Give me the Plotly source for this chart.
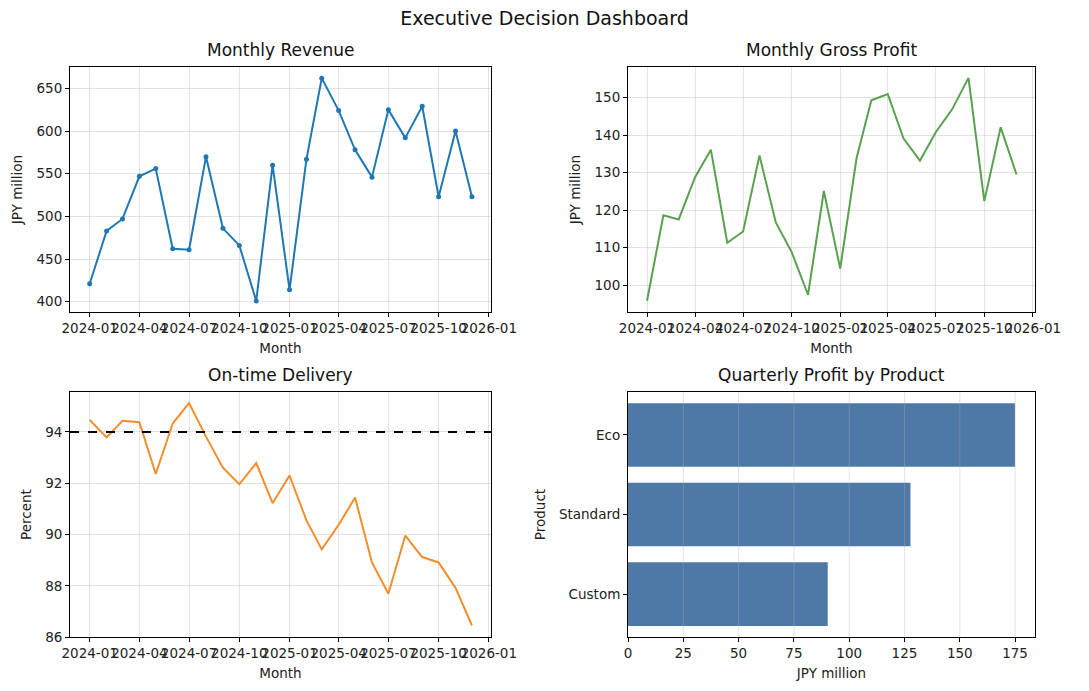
import plotly.graph_objects as go

# ---- data ----
months = [f"{y}-{m:02d}-01" for y in (2024, 2025) for m in range(1, 13)]

revenue = [421, 483, 497, 547, 556, 462, 461, 570, 486, 466, 401, 560,
           414, 567, 662, 624, 578, 546, 625, 592, 629, 523, 600, 523]

gross_profit = [95.8, 118.6, 117.5, 128.8, 136.1, 111.3, 114.3, 134.6, 116.7, 108.8, 97.4, 125.1,
                104.4, 133.9, 149.3, 151.0, 139.1, 133.2, 140.8, 146.9, 155.3, 122.4, 142.1, 129.5]

on_time = [94.47, 93.79, 94.44, 94.38, 92.36, 94.33, 95.13, 93.82, 92.61, 91.96, 92.79, 91.22,
           92.30, 90.55, 89.42, 90.38, 91.44, 88.91, 87.69, 89.96, 89.12, 88.91, 87.92, 86.45]
on_time_target = 94

products = ["Custom", "Standard", "Eco"]
product_profit = [90.3, 127.7, 175.0]

FONT = "DejaVu Sans"
TICK = 13.5
GRID = "rgba(176,176,176,0.35)"

fig = go.Figure()

fig.add_trace(go.Scatter(x=months, y=revenue, mode="lines+markers",
                         line=dict(color="#1f77b4", width=2),
                         marker=dict(size=5, color="#1f77b4"),
                         xaxis="x", yaxis="y", showlegend=False))
fig.add_trace(go.Scatter(x=months, y=gross_profit, mode="lines",
                         line=dict(color="#59a14f", width=2),
                         xaxis="x2", yaxis="y2", showlegend=False))
fig.add_trace(go.Scatter(x=months, y=on_time, mode="lines",
                         line=dict(color="#f28e2b", width=2),
                         xaxis="x3", yaxis="y3", showlegend=False))
fig.add_trace(go.Bar(x=product_profit, y=products, orientation="h",
                     marker=dict(color="#4e79a7", line=dict(width=0)), width=0.8,
                     xaxis="x4", yaxis="y4", showlegend=False))

# target line on the delivery panel
fig.add_shape(type="line", xref="x3 domain", yref="y3", x0=0, x1=1,
              y0=on_time_target, y1=on_time_target,
              line=dict(color="black", width=2, dash="dash"))

ax_common = dict(showline=True, linecolor="black", linewidth=1, mirror=True,
                 ticks="outside", ticklen=4, tickcolor="black", automargin=False,
                 tickfont=dict(family=FONT, size=TICK, color="#222"),
                 zeroline=False, showgrid=True, gridcolor=GRID, gridwidth=1)

date_ax = dict(ax_common, type="date", tick0="2024-01-01", dtick="M3", tickformat="%Y-%m",
               tickangle=0, range=["2023-11-26", "2026-01-05"],
               title=dict(text="Month", font=dict(family=FONT, size=TICK, color="#222"),
                          standoff=8))

def ytitle(t):
    return dict(text=t, font=dict(family=FONT, size=TICK, color="#222"), standoff=10)

xl, xr = [0.0643, 0.4509], [0.5767, 0.9504]
yt, yb = [0.5485, 0.9030], [0.0781, 0.4327]

fig.update_layout(
    xaxis=dict(date_ax, domain=xl, anchor="y"),
    yaxis=dict(ax_common, domain=yt, anchor="x", range=[388, 675], dtick=50,
               title=ytitle("JPY million")),
    xaxis2=dict(date_ax, domain=xr, anchor="y2"),
    yaxis2=dict(ax_common, domain=yt, anchor="x2", range=[92.8, 158.2], dtick=10,
                title=ytitle("JPY million")),
    xaxis3=dict(date_ax, domain=xl, anchor="y3"),
    yaxis3=dict(ax_common, domain=yb, anchor="x3", range=[86.0, 95.56], dtick=2,
                title=ytitle("Percent")),
    xaxis4=dict(ax_common, domain=xr, anchor="y4", range=[0, 184], dtick=25,
                showgrid=False,
                title=dict(text="JPY million", font=dict(family=FONT, size=TICK, color="#222"),
                           standoff=8)),
    yaxis4=dict(ax_common, domain=yb, anchor="x4", range=[-0.54, 2.54], showgrid=False,
                title=ytitle("Product")),
)

# matplotlib draws the grid over bars: redraw vertical grid above the bar patches
for v in [25, 50, 75, 100, 125, 150, 175]:
    fig.add_shape(type="line", xref="x4", yref="y4 domain", x0=v, x1=v, y0=0, y1=1,
                  line=dict(color=GRID, width=1), layer="above")

titles = [("Monthly Revenue", sum(xl) / 2, yt[1]),
          ("Monthly Gross Profit", sum(xr) / 2, yt[1]),
          ("On-time Delivery", sum(xl) / 2, yb[1]),
          ("Quarterly Profit by Product", sum(xr) / 2, yb[1])]
for text, x, y in titles:
    fig.add_annotation(text=text, x=x, y=y, xref="paper", yref="paper",
                       xanchor="center", yanchor="bottom", yshift=5, showarrow=False,
                       font=dict(family=FONT, size=17, color="#111"))

fig.update_layout(
    title=dict(text="Executive Decision Dashboard", x=0.5, xanchor="center",
               y=1 - 18 / 691, yanchor="middle", automargin=False,
               font=dict(family=FONT, size=19, color="#111")),
    width=1089, height=691, autosize=False,
    margin=dict(l=0, r=0, t=0, b=0),
    paper_bgcolor="white", plot_bgcolor="white",
    font=dict(family=FONT, color="#222"),
    bargap=0.2,
)

# drop the browser's default 8px body margin so the figure sits at the window corner
fig.write_html("out.html", config={"displayModeBar": False},
               post_script="document.body.style.margin='0px';")
